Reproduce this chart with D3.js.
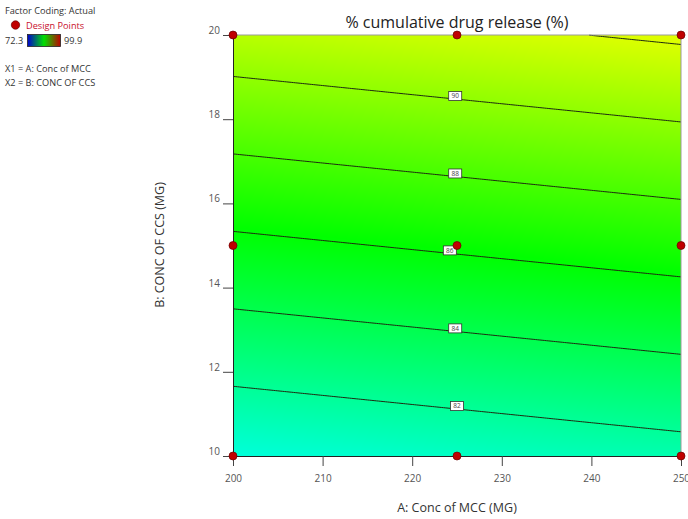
<!DOCTYPE html>
<html>
<head>
<meta charset="utf-8">
<script src="https://cdn.jsdelivr.net/npm/d3@7"></script>
<style>
  html, body { margin: 0; padding: 0; background: #fff; }
  svg { display: block; font-family: "Open Sans", "Noto Sans", sans-serif; }
</style>
</head>
<body>
<svg id="chart" width="688" height="519"></svg>
<script>
// Factor ranges
const xDomain = [200, 250];          // A: Conc of MCC (MG)
const yDomain = [10, 20];            // B: CONC OF CCS (MG)
const xTicks = [200, 210, 220, 230, 240, 250];
const yTicks = [10, 12, 14, 16, 18, 20];

// Fitted linear response surface: R = b0 + bA*A + bB*B
const coefNames = ["b0", "bA", "bB"];
const coefValues = [64.63, 0.0235, 1.087];

// Contour levels and where their labels sit along A
const contourLevels = [82, 84, 86, 88, 90, 92];
const labelLevels = [82, 84, 86, 88, 90];
const labelA = [225, 224.8, 224.2, 224.8, 224.8];

// Design points (A, B)
const designA = [200, 225, 250, 200, 225, 250, 200, 225, 250];
const designB = [10, 10, 10, 15, 15, 15, 20, 20, 20];

// Colour bar range
const colorRange = [72.3, 99.9];

const [b0, bA, bB] = coefValues;
const response = (a, b) => b0 + bA * a + bB * b;

const svg = d3.select("#chart");
const margin = { left: 233, right: 7, top: 35, bottom: 63 };
const W = 688, H = 519;
const x = d3.scaleLinear().domain(xDomain).range([margin.left, W - margin.right]);
const y = d3.scaleLinear().domain(yDomain).range([H - margin.bottom, margin.top]);

const lo = colorRange[0], hi = colorRange[1], span = hi - lo;
const color = d3.scaleLinear()
  .domain([lo, lo + span * 0.25, lo + span * 0.5, lo + span * 0.75, hi])
  .range(["#0000ff", "#00ffff", "#00ff00", "#ffff00", "#ff0000"])
  .interpolate(d3.interpolateRgb)
  .clamp(true);

// Filled surface rendered on a canvas, then embedded
const pw = Math.round(x.range()[1] - x.range()[0]);
const ph = Math.round(y.range()[0] - y.range()[1]);
const canvas = document.createElement("canvas");
canvas.width = pw; canvas.height = ph;
const ctx = canvas.getContext("2d");
const img = ctx.createImageData(pw, ph);
for (let j = 0; j < ph; j++) {
  const bv = y.invert(margin.top + j + 0.5);
  for (let i = 0; i < pw; i++) {
    const av = x.invert(margin.left + i + 0.5);
    const c = d3.rgb(color(response(av, bv)));
    const k = (j * pw + i) * 4;
    img.data[k] = c.r; img.data[k + 1] = c.g; img.data[k + 2] = c.b; img.data[k + 3] = 255;
  }
}
ctx.putImageData(img, 0, 0);
svg.append("image")
  .attr("x", margin.left).attr("y", margin.top)
  .attr("width", pw).attr("height", ph)
  .attr("preserveAspectRatio", "none")
  .attr("href", canvas.toDataURL());

// Contour lines: solve R = level for B along A, clipped to the plot box
const contourPoints = level => {
  const pts = [];
  const n = 200;
  for (let i = 0; i <= n; i++) {
    const a = xDomain[0] + (xDomain[1] - xDomain[0]) * i / n;
    const b = (level - b0 - bA * a) / bB;
    if (b >= yDomain[0] && b <= yDomain[1]) pts.push([a, b]);
  }
  return pts;
};
const line = d3.line().x(d => x(d[0])).y(d => y(d[1]));
svg.append("g").selectAll("path")
  .data(contourLevels)
  .join("path")
  .attr("d", lv => line(contourPoints(lv)))
  .attr("fill", "none")
  .attr("stroke", "#1e2a10")
  .attr("stroke-width", 1);

// Contour labels, boxed and sitting just above their line
const lab = svg.append("g");
labelLevels.forEach((lv, i) => {
  const a = labelA[i];
  const b = (lv - b0 - bA * a) / bB;
  const cx = x(a), cy = y(b) - 3;
  lab.append("rect")
    .attr("x", cx - 6.5).attr("y", cy - 4.5)
    .attr("width", 13).attr("height", 9)
    .attr("fill", "#ffffff").attr("stroke", "#333").attr("stroke-width", 0.8);
  lab.append("text")
    .attr("x", cx).attr("y", cy + 2.2)
    .attr("text-anchor", "middle")
    .attr("font-size", 6.5).attr("fill", "#444")
    .text(lv);
});

// Plot frame
svg.append("line").attr("x1", x.range()[0]).attr("x2", x.range()[1])
  .attr("y1", y.range()[1]).attr("y2", y.range()[1]).attr("stroke", "#9a9a9a");
svg.append("line").attr("x1", x.range()[1]).attr("x2", x.range()[1])
  .attr("y1", y.range()[1]).attr("y2", y.range()[0]).attr("stroke", "#9a9a9a");

// Axes
const xAxis = svg.append("g")
  .attr("transform", `translate(0,${y.range()[0]})`)
  .call(d3.axisBottom(x).tickValues(xTicks).tickSize(10).tickPadding(9).tickFormat(d3.format("d")));
const yAxis = svg.append("g")
  .attr("transform", `translate(${x.range()[0]},0)`)
  .call(d3.axisLeft(y).tickValues(yTicks).tickSize(10).tickPadding(3).tickFormat(d3.format("d")));
[xAxis, yAxis].forEach(g => {
  g.select(".domain").attr("stroke", "#222");
  g.selectAll(".tick line").attr("stroke", "#444");
  g.selectAll(".tick text").attr("fill", "#555").attr("font-size", 10)
    .attr("font-family", "\"Open Sans\", sans-serif");
});
yAxis.selectAll(".tick text").attr("dy", "-0.15em");

// Design points
svg.append("g").selectAll("circle")
  .data(designA.map((a, i) => [a, designB[i]]))
  .join("circle")
  .attr("cx", d => x(d[0])).attr("cy", d => y(d[1]))
  .attr("r", 4)
  .attr("fill", "#c00000").attr("stroke", "#6a0000").attr("stroke-width", 0.7);

// Titles
svg.append("text")
  .attr("x", 457).attr("y", 28)
  .attr("text-anchor", "middle").attr("font-size", 16).attr("fill", "#222")
  .text("% cumulative drug release (%)");
svg.append("text")
  .attr("x", 457).attr("y", 512)
  .attr("text-anchor", "middle").attr("font-size", 12.5).attr("fill", "#333")
  .text("A: Conc of MCC (MG)");
svg.append("text")
  .attr("transform", "translate(164,245) rotate(-90)")
  .attr("text-anchor", "middle").attr("font-size", 12.5).attr("fill", "#333")
  .text("B: CONC OF CCS (MG)");

// Legend block
const leg = svg.append("g").attr("font-size", 9.2).attr("fill", "#333");
leg.append("text").attr("x", 5).attr("y", 14).text("Factor Coding: Actual");
leg.append("circle").attr("cx", 15.5).attr("cy", 25).attr("r", 4.2)
  .attr("fill", "#c00000").attr("stroke", "#6a0000").attr("stroke-width", 0.7);
leg.append("text").attr("x", 26).attr("y", 28.5).attr("fill", "#c8102e").text("Design Points");
leg.append("text").attr("x", 5).attr("y", 44).text(d3.format(".1f")(colorRange[0]));
// colour bar follows the blue-green-red ramp
const grad = svg.append("defs").append("linearGradient").attr("id", "cbar");
[["0", "#0000d0"], ["0.5", "#00e000"], ["1", "#c00000"]].forEach(s =>
  grad.append("stop").attr("offset", s[0]).attr("stop-color", s[1]));
leg.append("rect").attr("x", 27.5).attr("y", 34.5).attr("width", 33).attr("height", 12)
  .attr("fill", "url(#cbar)").attr("stroke", "#222").attr("stroke-width", 0.8);
leg.append("text").attr("x", 64).attr("y", 44).text(d3.format(".1f")(colorRange[1]));
leg.append("text").attr("x", 5).attr("y", 72).text("X1 = A: Conc of MCC");
leg.append("text").attr("x", 5).attr("y", 86).text("X2 = B: CONC OF CCS");
</script>
</body>
</html>
